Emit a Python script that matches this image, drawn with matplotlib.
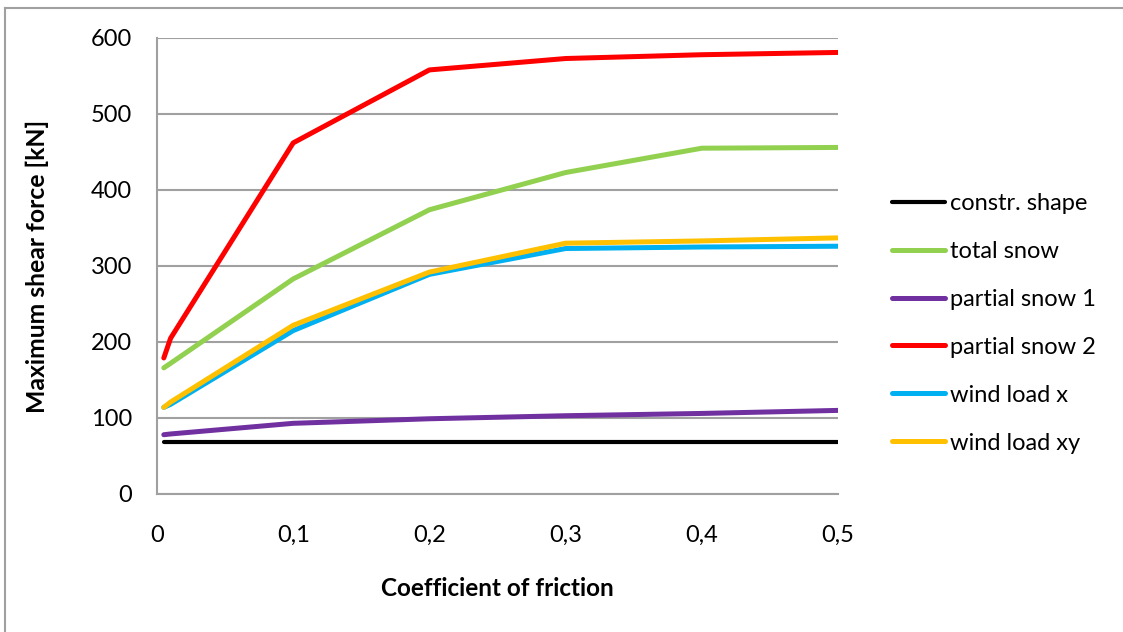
import matplotlib
matplotlib.use("Agg")
import matplotlib.pyplot as plt
from matplotlib.lines import Line2D

plt.rcParams['font.family'] = ['Lato', 'DejaVu Sans']

friction = [0.005, 0.01, 0.1, 0.2, 0.3, 0.4, 0.5]
constr_shape = [69, 69, 69, 69, 69, 69, 69]
total_snow = [166, 172, 283, 374, 423, 455, 456]
partial_snow_1 = [78, 79, 93, 99, 103, 106, 110]
partial_snow_2 = [179, 205, 462, 558, 573, 578, 581]
wind_load_x = [114, 118, 215, 289, 323, 325, 326]
wind_load_xy = [114, 121, 222, 292, 330, 333, 337]

series = [
    ("constr. shape", constr_shape, "#000000", 3.0),
    ("total snow", total_snow, "#92D050", 3.6),
    ("partial snow 1", partial_snow_1, "#7030A0", 3.6),
    ("partial snow 2", partial_snow_2, "#FF0000", 3.6),
    ("wind load x", wind_load_x, "#00B0F0", 3.6),
    ("wind load xy", wind_load_xy, "#FFC000", 3.6),
]

FS = 17
W, H = 1123, 632
fig = plt.figure(figsize=(W / 100, H / 100), dpi=100)
ax = fig.add_axes([157 / W, 1 - 494 / H, (838 - 157) / W, (494 - 38) / H])

for label, vals, color, lw in series:
    ax.plot(friction, vals, color=color, lw=lw, label=label,
            solid_capstyle='round', solid_joinstyle='round')

ax.set_xlim(0, 0.5)
ax.set_ylim(0, 600)
ax.set_xticks([0, 0.1, 0.2, 0.3, 0.4, 0.5])
ax.set_xticklabels(["0", "0,1", "0,2", "0,3", "0,4", "0,5"])
ax.set_yticks([0, 100, 200, 300, 400, 500, 600])
ax.grid(axis='y', color='#a0a0a0', lw=1.5)
ax.set_axisbelow(True)
for s in ['top', 'right']:
    ax.spines[s].set_visible(False)
for s in ['left', 'bottom']:
    ax.spines[s].set_color('#a0a0a0')
    ax.spines[s].set_linewidth(1.5)
ax.tick_params(axis='both', length=0, labelsize=FS)
ax.tick_params(axis='y', pad=18)
ax.tick_params(axis='x', pad=22)

ax.set_ylabel("Maximum shear force [kN]", fontsize=17.8, fontweight='bold', labelpad=30)
ax.set_xlabel("Coefficient of friction", fontsize=17.5, fontweight='bold', labelpad=23)

handles = [Line2D([], [], color=c, lw=lw, solid_capstyle='round')
           for _, _, c, lw in series]
labels = [s[0] for s in series]
leg = fig.legend(handles, labels, loc='upper left',
                 bbox_to_anchor=(892 / W, 1 - 193 / H), frameon=False,
                 fontsize=FS, handlelength=2.25, handletextpad=0.2,
                 labelspacing=1.14, borderaxespad=0, borderpad=0)

# chart-area border (only left and top visible in the crop)
fig.add_artist(Line2D([5 / W, 5 / W], [0, 1 - 8 / H], color='#a0a0a0', lw=1.5,
                      transform=fig.transFigure))
fig.add_artist(Line2D([5 / W, 1], [1 - 8 / H, 1 - 8 / H], color='#a0a0a0', lw=1.5,
                      transform=fig.transFigure))

fig.savefig("out.png", dpi=100)
